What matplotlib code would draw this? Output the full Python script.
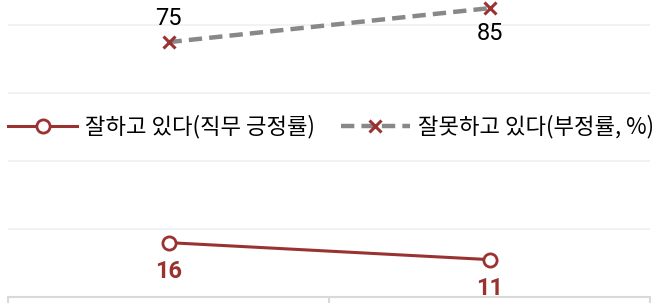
import matplotlib
matplotlib.use("Agg")
import matplotlib.pyplot as plt
from matplotlib import font_manager

categories = ["A", "B"]
positive = [16, 11]
negative = [75, 85]
label_pos = "잘하고 있다(직무 긍정률)"
label_neg = "잘못하고 있다(부정률, %)"

RED = "#9a3232"
GRAY = "#888888"

plt.rcParams['font.family'] = ['Noto Sans CJK KR', 'DejaVu Sans']
names = {f.name for f in font_manager.fontManager.ttflist}
numfont = ['Liberation Sans Narrow'] if 'Liberation Sans Narrow' in names else ['Roboto']

fig = plt.figure(figsize=(6.56, 3.03), dpi=100)
ax = fig.add_axes([8/656, 6/303, 642/656, 297/303])
x = list(range(len(categories)))

ax.set_xlim(-0.5, len(categories) - 0.5)
ax.set_ylim(0, 87.4)
for g in [20, 40, 60, 80]:
    ax.axhline(g, color="#f0f0f0", lw=1.2, zorder=0)

l1, = ax.plot(x, positive, color=RED, lw=2.2, marker='o', markersize=9.5,
              markerfacecolor='white', markeredgecolor=RED, markeredgewidth=2, zorder=3,
              label=label_pos)
l2, = ax.plot(x, negative, color=GRAY, lw=3.2, linestyle=(0, (3, 1.6)), marker='x',
              markersize=8, markeredgecolor=RED, markeredgewidth=2.2, zorder=3,
              label=label_neg)

for xi, v in zip(x, positive):
    ax.annotate(str(v), (xi, v), xytext=(0, -21), textcoords='offset points',
                ha='center', va='center', fontsize=17, color=RED, fontweight='bold',
                family=numfont)
offs = [17, -18]
for xi, v, o in zip(x, negative, offs):
    ax.annotate(str(v), (xi, v), xytext=(0, o), textcoords='offset points',
                ha='center', va='center', fontsize=17, color='black', family=numfont)

for s in ['top', 'right', 'left']:
    ax.spines[s].set_visible(False)
ax.spines['bottom'].set_color('#d9d9d9')
ax.spines['bottom'].set_linewidth(1.5)
ax.set_yticks([])
ax.set_xticks([-0.5, 0.5, 1.5])
ax.set_xticklabels([])
ax.tick_params(axis='x', length=8, width=1.5, color='#d9d9d9', direction='out')

leg = fig.legend(handles=[l1, l2], loc='center', bbox_to_anchor=(331/656, 1 - 127/303),
                 ncol=2, frameon=False, fontsize=16, handlelength=3.1,
                 handletextpad=0.37, columnspacing=1.15)

fig.savefig("out.png", dpi=100)
